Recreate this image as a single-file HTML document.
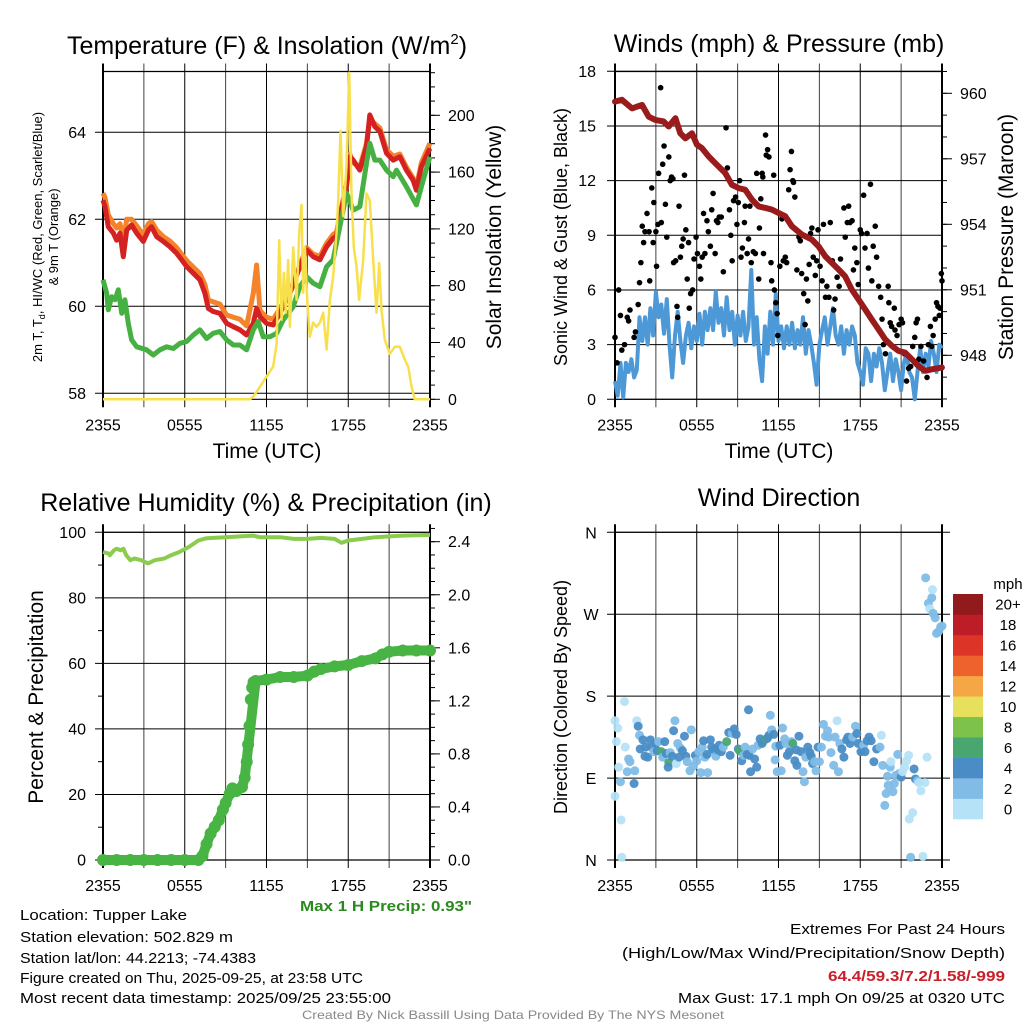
<!DOCTYPE html>
<html><head><meta charset="utf-8"><style>
html,body{margin:0;padding:0;background:#fff;}
svg{display:block;font-family:"Liberation Sans",sans-serif;}
</style></head><body>
<svg id="fig" width="1024" height="1024" viewBox="0 0 1024 1024" xmlns="http://www.w3.org/2000/svg">
<rect width="1024" height="1024" fill="#fff"/>
<g font-size="25" text-anchor="middle" fill="#000">
<text x="267" y="54">Temperature (F) &amp; Insolation (W/m<tspan font-size="15" dy="-10">2</tspan><tspan dy="10">)</tspan></text>
<text x="779" y="52">Winds (mph) &amp; Pressure (mb)</text>
<text x="266" y="511">Relative Humidity (%) &amp; Precipitation (in)</text>
<text x="779" y="506">Wind Direction</text>
</g>
<g font-size="21" text-anchor="middle">
<text x="267" y="458">Time (UTC)</text>
<text x="779" y="458">Time (UTC)</text>
<text transform="translate(501,237) rotate(-90)">Solar Insolation (Yellow)</text>
<text transform="translate(1013,237) rotate(-90)">Station Pressure (Maroon)</text>
<text transform="translate(567,237) rotate(-90)" font-size="18">Sonic Wind &amp; Gust (Blue, Black)</text>
<text transform="translate(43,697) rotate(-90)" font-size="21">Percent &amp; Precipitation</text>
<text transform="translate(567,697) rotate(-90)" font-size="18">Direction (Colored By Speed)</text>
</g>
<g font-size="13" text-anchor="middle">
<text transform="translate(42,237) rotate(-90)">2m T, T<tspan font-size="9" dy="3">d</tspan><tspan dy="-3">, HI/WC (Red, Green, Scarlet/Blue)</tspan></text>
<text transform="translate(58,237) rotate(-90)">&amp; 9m T (Orange)</text>
</g>
<g id="p1"></g>
<g id="p2"></g>
<g id="p3"></g>
<g id="p4"></g>
<g id="cbar"></g>
<g font-size="15">
<text x="300" y="911" textLength="172" lengthAdjust="spacingAndGlyphs" fill="#2a8a1e" font-weight="bold">Max 1 H Precip: 0.93"</text>
<text x="20" y="920" textLength="167" lengthAdjust="spacingAndGlyphs">Location: Tupper Lake</text>
<text x="20" y="942" textLength="213" lengthAdjust="spacingAndGlyphs">Station elevation: 502.829 m</text>
<text x="20" y="963" textLength="236" lengthAdjust="spacingAndGlyphs">Station lat/lon: 44.2213; -74.4383</text>
<text x="20" y="983" textLength="343" lengthAdjust="spacingAndGlyphs">Figure created on Thu, 2025-09-25, at 23:58 UTC</text>
<text x="20" y="1003" textLength="371" lengthAdjust="spacingAndGlyphs">Most recent data timestamp: 2025/09/25 23:55:00</text>
<text x="790" y="934" textLength="215" lengthAdjust="spacingAndGlyphs">Extremes For Past 24 Hours</text>
<text x="622" y="958" textLength="383" lengthAdjust="spacingAndGlyphs">(High/Low/Max Wind/Precipitation/Snow Depth)</text>
<text x="828" y="981" textLength="177" lengthAdjust="spacingAndGlyphs" fill="#c8202a" font-weight="bold">64.4/59.3/7.2/1.58/-999</text>
<text x="678" y="1003" textLength="327" lengthAdjust="spacingAndGlyphs">Max Gust: 17.1 mph On 09/25 at 0320 UTC</text>
<text x="302" y="1019" font-size="12" fill="#888" textLength="422" lengthAdjust="spacingAndGlyphs">Created By Nick Bassill Using Data Provided By The NYS Mesonet</text>
</g>
</svg>
<script>
// ---------- Data ----------
const xTickLabels = ["2355","0555","1155","1755","2355"];
const tempHours = [0,0.15,0.39,0.76,1.0,1.25,1.49,1.74,2.1,2.47,2.96,3.33,3.57,3.94,4.43,4.91,5.4,5.77,6.14,6.63,7.11,7.48,7.73,8.09,8.58,9.07,9.56,10.05,10.54,11.03,11.27,11.52,12.0,12.49,12.98,13.72,14.45,14.94,15.43,15.92,16.41,16.89,17.14,17.38,17.87,18.12,18.36,18.85,19.34,19.58,19.95,20.32,20.81,21.3,21.78,22.27,22.76,23.0,23.37,23.99];
const tempRed = [62.44,62.29,61.83,61.68,61.52,61.68,61.14,61.75,61.87,61.68,61.49,61.75,61.83,61.6,61.49,61.37,61.22,61.07,60.91,60.76,60.61,60.3,59.95,59.88,59.84,59.61,59.53,59.46,59.34,59.61,59.95,59.76,59.61,59.57,59.84,60.3,60.91,61.3,61.14,61.07,61.37,61.56,61.6,62.06,62.75,63.44,63.36,63.13,63.67,64.4,64.13,64.02,63.52,63.36,63.44,63.13,62.9,62.67,63.21,63.63];
const tempOrange = [62.6,62.5,62.1,61.9,61.8,61.9,61.5,62.0,62.0,61.85,61.65,61.9,61.95,61.75,61.6,61.5,61.35,61.2,61.05,60.9,60.75,60.5,60.15,60.1,60.05,59.8,59.75,59.7,59.55,60.3,60.95,59.9,59.75,59.7,59.95,60.35,60.95,61.35,61.2,61.15,61.45,61.65,61.7,62.1,62.8,63.5,63.3,63.2,63.75,64.3,64.2,64.1,63.6,63.45,63.5,63.2,62.95,62.75,63.3,63.75];
const dewHours = [0,0.27,0.39,0.64,0.88,1.12,1.37,1.61,1.86,2.1,2.47,3.2,3.69,4.18,4.67,5.16,5.65,6.14,6.63,7.11,7.6,8.09,8.58,9.07,9.56,10.05,10.54,11.03,11.39,11.76,12.25,12.74,13.23,13.96,14.45,14.94,15.43,15.92,16.41,16.89,17.38,17.87,18.36,18.85,19.34,19.58,19.95,20.32,20.81,21.3,21.54,22.27,23.0,23.5,23.99];
const dewGreen = [60.61,60.3,59.92,60.22,60.15,60.38,59.84,60.15,59.61,59.23,59.07,59.0,58.88,59.0,59.07,59.03,59.15,59.19,59.34,59.46,59.26,59.38,59.42,59.23,59.11,59.11,59.0,59.46,59.65,59.3,59.3,59.38,59.69,59.99,60.45,60.68,60.53,60.45,60.91,61.07,61.83,62.6,62.21,62.29,63.29,63.75,63.36,63.36,63.13,62.98,63.13,62.75,62.33,62.9,63.44];
const solarHours = [0,10.78,11.03,11.52,12.0,12.49,12.74,12.93,13.11,13.28,13.42,13.59,13.72,13.96,14.21,14.4,14.57,14.69,14.82,14.99,15.18,15.43,15.67,15.92,16.16,16.41,16.65,16.89,17.14,17.26,17.43,17.63,17.87,18.07,18.24,18.41,18.61,18.8,19.1,19.34,19.58,19.83,20.07,20.27,20.44,20.68,21.05,21.42,21.78,22.15,22.4,22.64,22.88,24];
const solarWm2 = [0,0,1.9,8.9,16,23,39,112,56,89,61,98,51,107,70,117,137,75,107,70,44,54,51,54,61,35,70,86,117,140,189,129,164,230,145,107,93,70,98,145,140,98,61,96,63,42,32,37,37,28,23,9,0,0];
const tempTicks = [58,60,62,64];
const solarTicks = [0,40,80,120,160,200];

const windMph = [1.0,0.2,2.0,0.1,2.0,1.5,2.2,1.2,1.6,4.5,3.2,4.5,3.0,5.0,3.5,5.9,4.5,5.2,3.6,5.5,3.0,1.2,3.5,4.8,3.2,2.0,3.5,4.2,2.8,4.0,3.2,4.7,3.0,4.8,3.8,5.0,3.8,5.9,4.2,5.0,3.5,5.6,3.8,4.8,3.0,4.6,3.5,4.8,3.2,4.0,7.1,3.0,4.5,2.2,1.0,4.0,2.5,4.8,3.0,5.8,3.2,4.0,2.8,4.0,3.0,4.2,2.8,3.8,3.0,4.5,2.5,3.8,3.0,2.0,0.8,3.0,3.8,4.5,3.0,4.0,5.0,3.5,3.0,4.0,2.5,3.8,3.0,4.0,3.5,2.0,1.5,0.8,2.8,2.5,1.0,2.5,1.8,2.8,2.0,0.5,1.5,2.5,1.0,2.2,1.5,0.5,2.0,2.5,1.5,1.2,0,1.5,2.8,1.5,2.5,1.8,3.2,2.5,1.5,3.0,2.8];
const gustHours = [0,0.15,0.27,0.4,0.5,0.7,0.9,1.0,1.1,1.4,1.5,1.7,1.8,1.9,2.0,2.1,2.2,2.35,2.5,2.55,2.7,2.8,2.85,3.0,3.05,3.15,3.2,3.35,3.4,3.5,3.6,3.7,3.8,3.95,4.05,4.15,4.25,4.3,4.45,4.55,4.6,4.7,4.8,4.9,5.0,5.1,5.2,5.3,5.4,5.45,5.55,5.7,5.8,5.95,6.05,6.2,6.3,6.4,6.5,6.6,6.75,6.85,7.0,7.1,7.2,7.35,7.45,7.55,7.65,7.8,7.95,8.15,8.25,8.4,8.5,8.6,8.7,8.85,8.95,9.05,9.15,9.25,9.35,9.5,9.55,9.7,9.8,9.9,10.0,10.15,10.3,10.4,10.55,10.6,10.7,10.8,10.85,10.9,11.05,11.1,11.2,11.3,11.45,11.5,11.65,11.7,11.8,11.9,11.95,12.1,12.25,12.35,12.5,12.6,12.75,12.85,12.95,13.05,13.1,13.2,13.35,13.5,13.6,13.7,13.85,13.95,14.05,14.15,14.25,14.35,14.45,14.55,14.7,14.8,14.9,15.05,15.2,15.3,15.45,15.55,15.7,15.8,15.95,16.05,16.15,16.3,16.45,16.55,16.65,16.8,16.9,17.05,17.15,17.25,17.4,17.5,17.6,17.75,17.85,18.0,18.1,18.25,18.35,18.5,18.6,18.75,18.85,18.95,19.1,19.2,19.35,19.5,19.6,19.7,19.85,20.05,20.1,20.2,20.3,20.5,20.55,20.7,20.85,21.0,21.1,21.25,21.4,21.55,21.7,21.85,22.0,22.1,22.2,22.3,22.45,22.65,22.9,23.0,23.15,23.25,23.35,23.5,23.6,23.7,23.8,23.85,23.95,24.0];
const gustMph = [3.4,2.0,6.0,4.6,2.7,3.0,4.5,4.3,4.9,3.4,3.7,5.2,6.4,7.5,9.5,8.6,9.2,10.2,9.2,6.5,11.6,8.6,10.8,9.2,7.3,9.6,12.4,17.1,9.7,12.9,13.9,10.7,8.9,13.3,12.0,12.2,12.1,7.5,7.6,5.1,4.5,10.6,7.8,8.4,8.8,12.3,9.3,6.6,8.6,5.0,5.8,6.0,7.7,8.9,8.0,7.3,6.6,7.8,10.2,8.0,9.8,9.2,8.4,10.4,11.3,8.0,9.8,9.7,10.0,10.0,7.0,14.9,12.7,10.4,9.0,7.6,10.9,11.1,9.6,10.8,12.0,7.8,8.3,9.7,10.6,8.0,8.8,10.6,7.5,8.1,8.0,12.4,6.6,9.4,11.0,12.4,12.2,8.0,14.5,13.4,13.7,13.3,7.5,6.5,12.3,6.0,5.3,4.7,3.5,7.3,9.9,7.6,7.8,7.5,11.5,12.6,13.6,12.0,11.9,11.1,7.1,8.9,8.7,6.9,5.8,4.1,6.6,5.4,7.4,9.1,9.4,7.8,6.8,7.6,9.3,7.3,6.5,9.6,5.6,6.2,5.6,9.7,7.6,4.9,5.5,6.7,6.2,7.7,6.9,10.5,8.9,9.7,10.6,9.7,9.8,7.1,8.3,7.5,6.3,9.3,9.1,11.2,8.3,9.1,7.2,11.8,6.5,8.4,9.5,7.8,6.2,5.6,4.4,3.0,2.5,6.2,5.3,4.2,4.0,5.0,3.8,3.5,4.1,4.4,4.2,2.5,1.0,1.7,1.8,2.9,3.4,4.2,4.4,2.2,2.9,2.1,1.2,3.0,4.0,2.9,3.5,4.4,5.3,5.1,4.6,5.0,6.9,6.5];
const presHours = [0,0.51,1.25,1.98,2.47,2.96,3.57,3.94,4.43,4.79,5.16,5.65,6.02,6.38,6.87,7.36,8.09,8.58,9.07,9.56,10.05,10.54,11.03,11.52,12.0,12.49,12.98,13.72,14.45,14.94,15.43,15.92,16.41,16.89,17.38,17.87,18.36,18.85,19.34,19.83,20.32,20.81,21.3,21.78,22.27,22.76,23.25,23.99];
const presMb = [959.62,959.7,959.31,959.47,958.93,958.78,958.71,958.48,958.86,958.17,957.94,958.17,957.64,957.49,957.11,956.8,956.35,955.81,955.66,955.58,955.13,954.82,954.75,954.67,954.52,954.37,953.91,953.53,953.3,952.99,952.54,952.23,951.93,951.62,951.01,950.56,950.1,949.64,949.19,948.73,948.43,948.2,948.12,947.82,947.51,947.29,947.36,947.44];
const windTicks = [0,3,6,9,12,15,18];
const presTicks = [948,951,954,957,960];

const rhHours = [0,0.4,0.5,0.8,1.0,1.3,1.5,1.7,2.0,2.3,2.8,3.3,3.8,4.5,5.0,5.6,6.3,7.0,7.6,9.0,11.0,11.5,13.0,14.0,15.0,16.0,17.0,17.5,18.0,19.0,20.0,22.0,24.0];
const rhPct = [94,93.5,93,94.5,95,94.5,95,93,91.5,92,91.5,90.5,91.5,92,93,94,95.5,97.5,98.2,98.5,99,98.5,98.5,98,98,98.3,98,96.8,97.5,98,98.5,99,99.2];
const precipHours = [0,1,2,3,4,5,6,7.0,7.3,7.6,7.9,8.2,8.5,8.8,9.0,9.3,9.5,9.8,10.2,10.4,10.55,10.65,10.75,10.85,10.95,11.05,11.2,12.0,13.0,14.0,15.0,15.5,16.0,17.0,18.0,19.0,20.0,20.5,21.0,22.0,23.0,24.0];
const precipIn = [0,0,0,0,0,0,0,0,0.03,0.12,0.2,0.25,0.3,0.38,0.43,0.5,0.54,0.52,0.55,0.62,0.74,0.87,1.01,1.21,1.3,1.34,1.35,1.36,1.38,1.38,1.39,1.42,1.44,1.46,1.47,1.5,1.52,1.55,1.57,1.58,1.58,1.58];
const rhTicks = [0,20,40,60,80,100];
const precipTicks = ["0.0","0.4","0.8","1.2","1.6","2.0","2.4"];

const dirHours = [0,0.2,0.1,0.27,0,0.45,0.5,0.7,0.75,0.4,0.9,1.0,1.1,1.4,1.45,1.6,1.7,1.8,1.85,2.05,2.2,2.25,2.4,2.6,2.7,2.85,3.0,3.1,3.2,3.4,3.5,3.65,3.75,3.95,3.9,4.05,4.2,4.3,4.4,4.5,4.6,4.7,4.8,4.95,5.1,5.2,5.3,5.5,5.6,5.75,5.9,6.0,6.15,6.3,6.4,6.5,6.6,6.75,6.8,7.0,7.1,7.25,7.4,7.55,7.65,7.8,7.95,8.2,8.35,8.45,8.6,8.75,8.9,9.05,9.15,9.3,9.45,9.55,9.7,9.8,9.85,9.95,10.1,10.25,10.4,10.5,10.65,10.8,10.9,11.1,11.2,11.3,11.4,11.5,11.65,11.75,11.8,11.9,12.1,12.2,12.3,12.45,12.55,12.65,12.8,12.95,13.05,13.2,13.3,13.35,13.5,13.65,13.8,13.9,14.0,14.15,14.3,14.4,14.5,14.65,14.75,14.9,15.0,15.15,15.3,15.45,15.6,15.7,15.85,16.05,16.15,16.3,16.4,16.5,16.65,16.8,17.0,17.1,17.25,17.45,17.65,17.75,17.85,18.05,18.25,18.35,18.5,18.65,18.8,19.0,19.2,19.45,19.55,19.65,19.8,19.9,20.0,20.05,20.2,20.25,20.4,20.5,20.6,20.75,20.85,21.0,21.1,21.25,21.4,21.55,21.6,21.7,21.85,21.95,22.05,22.2,22.3,22.45,22.6,22.75,22.9,22.8,23.0,23.1,23.25,23.3,23.35,23.5,23.6,23.75,23.9,24.0];
const dirDeg = [153,145,130,102,70,44,3,174,124,86,97,111,108,84,98,153,147,137,122,132,114,124,113,132,124,119,128,120,130,119,113,130,117,107,102,118,114,142,153,106,128,113,123,120,136,114,108,98,143,103,115,109,119,96,124,131,113,116,96,132,124,121,114,121,126,119,124,130,140,115,139,144,138,122,120,109,115,124,116,165,115,97,122,111,102,126,133,128,131,133,134,137,159,143,138,110,125,97,126,98,145,133,128,115,119,130,128,109,121,104,136,119,97,86,113,124,118,114,106,108,98,124,108,124,149,136,142,135,118,104,135,153,97,128,122,113,132,135,128,135,147,139,128,119,126,119,131,135,131,108,122,124,137,104,60,73,92,82,102,108,75,84,93,116,95,91,97,102,109,115,45,3,52,100,89,87,85,76,4,85,113,310,282,276,288,297,271,266,249,251,256,257];
const dirSpeed = [1,1,1,1,1,1,1,1,1,3,3,3,3,5,3,1,5,3,5,5,5,5,5,5,5,3,5,5,3,7,3,5,5,7,5,3,5,5,3,1,3,5,3,5,5,5,3,3,3,3,5,3,3,3,3,5,3,5,3,5,5,5,3,5,5,5,3,7,5,5,3,5,5,5,7,5,3,3,5,5,5,5,3,5,5,3,5,5,5,7,5,5,3,3,5,3,3,3,5,3,3,3,3,5,5,3,7,5,5,5,5,5,3,3,3,5,5,5,5,3,3,5,3,3,3,3,3,3,3,3,3,1,3,3,5,5,5,5,5,3,3,5,5,5,3,5,5,5,5,5,5,3,1,3,3,3,3,3,3,1,3,3,3,3,3,5,1,1,1,1,1,3,1,5,5,3,1,1,1,1,1,3,3,1,3,1,3,3,3,3,3,3,3];
const dirTicks = ["N","E","S","W","N"];
const speedBins = ["0","2","4","6","8","10","12","14","16","18","20+"];
const speedColors = ["#b5e2f6","#80bce6","#4a8dc6","#4aa670","#7cc24b","#e7e05c","#f5a746","#ee622d","#dd3428","#bc1d27","#911a1d"];

// ---------- Helpers ----------
const NS = "http://www.w3.org/2000/svg";
function mk(parent, tag, attrs, text) {
  const e = document.createElementNS(NS, tag);
  for (const k in attrs) e.setAttribute(k, attrs[k]);
  if (text !== undefined) e.textContent = text;
  parent.appendChild(e);
  return e;
}
function xScale(x0) { return h => x0 + h / 24 * 327; }
function yScale(v0, y0, v1, y1) { return v => y0 + (v - v0) * (y1 - y0) / (v1 - v0); }
function linePath(xs, ys, fx, fy) {
  return xs.map((h, i) => (i ? "L" : "M") + fx(h).toFixed(1) + "," + fy(ys[i]).toFixed(1)).join("");
}
function frame(g, x0, top, bot) {
  const x1 = x0 + 327;
  for (let k = 0; k <= 8; k++) {
    const x = x0 + k * 327 / 8;
    const vl = mk(g, "line", {x1: x, x2: x, y1: top - 8, y2: bot + 8, stroke: "#000", "stroke-width": (k === 0 || k === 8) ? 2 : 1, opacity: (k % 2) ? 0.75 : 1});
    
    
  }
  xTickLabels.forEach((t, i) => {
    const tl = mk(g, "text", {x: x0 + i * 327 / 4, y: bot + 31, "font-size": 16, "text-anchor": "middle"}, t);
    
    
  });
  mk(g, "line", {x1: x0, x2: x1, y1: top, y2: top, stroke: "#000", "stroke-width": 1.2});
  mk(g, "line", {x1: x0, x2: x1, y1: bot, y2: bot, stroke: "#000", "stroke-width": 1.2});
}
function hgrid(g, x0, y, label, side, lx) {
  const l = mk(g, "line", {x1: x0 - 8, x2: x0 + 327, y1: y, y2: y, stroke: "#000", "stroke-width": 1});
  
  
  const t = mk(g, "text", {x: lx, y: y + 5.5, "font-size": 16, "text-anchor": side}, label);
  
  
}
function rightTicks(g, x1, vals, fy, minorVals, lx) {
  minorVals.forEach(v => mk(g, "line", {x1: x1, x2: x1 + 5, y1: fy(v), y2: fy(v), stroke: "#000", "stroke-width": 1}));
  vals.forEach(v => {
    mk(g, "line", {x1: x1, x2: x1 + 10, y1: fy(+v), y2: fy(+v), stroke: "#000", "stroke-width": 1});
    const t = mk(g, "text", {x: lx, y: fy(+v) + 5.5, "font-size": 16}, v);
    
    
  });
}
function range(a, b, s) { const r = []; for (let v = a; v <= b + 1e-9; v += s) r.push(+v.toFixed(3)); return r; }

// ---------- Panel 1 ----------
(function () {
  const g = document.getElementById("p1");
  const fx = xScale(103), fT = yScale(58, 393.3, 64, 132.3), fS = yScale(0, 399.3, 200, 115.3);
  frame(g, 103, 71.5, 399.3);
  tempTicks.forEach(v => hgrid(g, 103, fT(v), String(v), "end", 86));
  rightTicks(g, 430, solarTicks.map(String), fS, range(0, 230, 10), 448);
  const o = mk(g, "path", {d: linePath(tempHours, tempOrange, fx, fT), fill: "none", stroke: "#f4832b", "stroke-width": 5, "stroke-linejoin": "round"});
  
  
  const r = mk(g, "path", {d: linePath(tempHours, tempRed, fx, fT), fill: "none", stroke: "#d42222", "stroke-width": 5, "stroke-linejoin": "round"});
  
  
  const gr = mk(g, "path", {d: linePath(dewHours, dewGreen, fx, fT), fill: "none", stroke: "#47b042", "stroke-width": 5, "stroke-linejoin": "round"});
  
  
  const y = mk(g, "path", {d: linePath(solarHours, solarWm2, fx, fS), fill: "none", stroke: "#f8e04c", "stroke-width": 2.5, "stroke-linejoin": "round"});
  
  
})();

// ---------- Panel 2 ----------
(function () {
  const g = document.getElementById("p2");
  const fx = xScale(615), fW = yScale(0, 399.3, 18, 71.3), fP = yScale(948, 355.3, 960, 93.3);
  frame(g, 615, 71.5, 399.3);
  windTicks.forEach(v => hgrid(g, 615, fW(v), String(v), "end", 596));
  rightTicks(g, 942, presTicks.map(String), fP, range(946, 961, 1), 960);
  const b = mk(g, "path", {d: linePath(windMph.map((v, i) => i * 0.2), windMph, fx, fW), fill: "none", stroke: "#4d98d6", "stroke-width": 4, "stroke-linejoin": "round"});
  
  
  gustHours.forEach((h, i) => {
    const c = mk(g, "circle", {cx: fx(h), cy: fW(gustMph[i]), r: 2.8, fill: "#000"});
    
    
  });
  const p = mk(g, "path", {d: linePath(presHours, presMb, fx, fP), fill: "none", stroke: "#9a1b1c", "stroke-width": 6, "stroke-linejoin": "round", "stroke-linecap": "round"});
  
  
})();

// ---------- Panel 3 ----------
(function () {
  const g = document.getElementById("p3");
  const fx = xScale(103), fR = yScale(0, 860, 100, 532.3), fI = yScale(0, 860, 2.4, 541.7);
  frame(g, 103, 532.3, 860);
  rhTicks.forEach(v => hgrid(g, 103, fR(v), String(v), "end", 86));
  range(10, 90, 20).forEach(v => mk(g, "line", {x1: 98, x2: 103, y1: fR(v), y2: fR(v), stroke: "#000"}));
  rightTicks(g, 430, precipTicks, fI, range(0, 2.5, 0.1), 448);
  const rh = mk(g, "path", {d: linePath(rhHours, rhPct, fx, fR), fill: "none", stroke: "#8ccc4c", "stroke-width": 4, "stroke-linejoin": "round"});
  
  
  const keep = precipHours.map(h => h < 10.5 || h > 11.1);
  const pl = mk(g, "path", {d: linePath(precipHours.filter((h, i) => keep[i]), precipIn.filter((v, i) => keep[i]), fx, fI), fill: "none", stroke: "#47b443", "stroke-width": 10, "stroke-linejoin": "round", "stroke-linecap": "round"});
  
  
  precipHours.forEach((h, i) => {
    const c = mk(g, "circle", {cx: fx(h), cy: fI(precipIn[i]), r: 6, fill: "#47b443"});
    
    
  });
})();

// ---------- Panel 4 ----------
(function () {
  const g = document.getElementById("p4");
  const fx = xScale(615), fD = yScale(0, 860, 360, 532.3);
  frame(g, 615, 532.3, 860);
  dirTicks.forEach((t, i) => {
    const y = fD(i * 90);
    const l = mk(g, "line", {x1: 607, x2: 950, y1: y, y2: y, stroke: "#000", "stroke-width": 1});
    
    
    const tl = mk(g, "text", {x: 591, y: y + 6, "font-size": 16, "text-anchor": "middle"}, t);
    
    
  });
  dirHours.forEach((h, i) => {
    const spd = dirSpeed[i] !== undefined ? dirSpeed[i] : 3;
    const bin = Math.min(10, Math.floor(spd / 2));
    const c = mk(g, "circle", {cx: fx(h), cy: fD(dirDeg[i]), r: 4.5, fill: speedColors[bin], opacity: 0.95});
    
    
  });
  const cb = document.getElementById("cbar");
  const t = mk(cb, "text", {x: 1008, y: 589, "font-size": 15, "text-anchor": "middle"}, "mph");
  
  
  const boxH = (819 - 594) / speedBins.length;
  speedBins.forEach((lab, k) => {
    const y = 819 - (k + 1) * boxH;
    const r = mk(cb, "rect", {x: 953, y: y, width: 30, height: boxH + 0.3, fill: speedColors[k]});
    
    
    const tl = mk(cb, "text", {x: 1008, y: y + boxH / 2 + 5.5, "font-size": 15, "text-anchor": "middle"}, lab);
    
    
  });
})();
</script>
</body></html>
